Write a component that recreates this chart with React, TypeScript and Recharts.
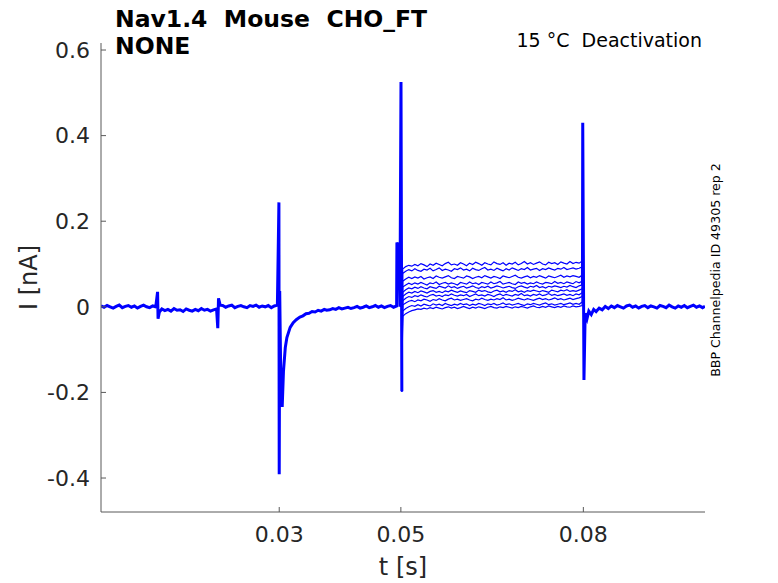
import React from "react";
import { LineChart, Line, XAxis, YAxis } from "recharts";

// ---- data (t in s, I in nA) ----
const X_TICKS = [0.03, 0.05, 0.08];
const Y_TICKS = [-0.4, -0.2, 0, 0.2, 0.4, 0.6];

// shared part of all sweeps before the deactivation step: [t, I]
const PRE: [number, number][] = [
  [0.0007, 0.002], [0.0012, -0.001], [0.0017, 0.003], [0.0022, 0.0], [0.0027, -0.003], [0.0032, 0.001],
  [0.0037, 0.004], [0.0042, -0.002], [0.0047, 0.001], [0.0052, 0.003], [0.0057, -0.001], [0.0062, 0.002],
  [0.0067, -0.003], [0.0072, 0.001], [0.0077, 0.004], [0.0082, 0.0], [0.0087, -0.002], [0.0092, 0.002],
  [0.0097, 0.0],
  [0.01, 0.035], [0.01008, -0.028], [0.0103, -0.012],
  [0.0107, -0.005], [0.0112, -0.009], [0.0117, -0.006], [0.0122, -0.01], [0.0127, -0.004], [0.0132, -0.008],
  [0.0137, -0.007], [0.0142, -0.011], [0.0147, -0.005], [0.0152, -0.008], [0.0157, -0.01], [0.0162, -0.006],
  [0.0167, -0.009], [0.0172, -0.004], [0.0177, -0.008], [0.0182, -0.006], [0.0187, -0.01], [0.0192, -0.007],
  [0.0197, -0.005],
  [0.0199, -0.05], [0.02002, 0.02], [0.0203, 0.004],
  [0.0207, 0.003], [0.0212, -0.001], [0.0217, 0.002], [0.0222, 0.004], [0.0227, -0.002], [0.0232, 0.001],
  [0.0237, 0.003], [0.0242, 0.0], [0.0247, -0.002], [0.0252, 0.003], [0.0257, 0.001], [0.0262, 0.004],
  [0.0267, -0.001], [0.0272, 0.002], [0.0277, 0.0], [0.0282, 0.003], [0.0287, -0.002], [0.0292, 0.002],
  [0.0297, 0.004],
  [0.02995, 0.244], [0.03, -0.391], [0.03008, 0.037], [0.03025, -0.16], [0.03049, -0.234],
  [0.0307, -0.15], [0.031, -0.095], [0.03126, -0.072], [0.0318, -0.048], [0.0323, -0.037], [0.0328, -0.03],
  [0.0334, -0.024], [0.0339, -0.021], [0.0344, -0.016], [0.0349, -0.015], [0.0354, -0.011], [0.0359, -0.012],
  [0.0364, -0.008], [0.0369, -0.01], [0.0374, -0.006], [0.0378, -0.008],
  [0.0383, -0.007], [0.0388, -0.004], [0.0393, -0.006], [0.0398, -0.002], [0.0403, -0.005], [0.0408, -0.003],
  [0.0413, -0.001], [0.0418, -0.004], [0.0423, -0.002], [0.0428, 0.001], [0.0433, -0.003], [0.0438, -0.001],
  [0.0443, 0.002], [0.0448, -0.002], [0.0453, 0.0], [0.0458, 0.003], [0.0463, -0.001], [0.0468, 0.002],
  [0.0473, -0.002], [0.0478, 0.001], [0.0483, 0.003], [0.0488, -0.001], [0.0493, 0.002],
  [0.04935, 0.15], [0.0497, 0.14], [0.04985, 0.0], [0.05002, 0.525], [0.05016, -0.197],
];

// time base of the individual sweeps during the step
const STEP_T = [
  0.0503, 0.0508, 0.0513, 0.0518, 0.0523, 0.0528, 0.0533, 0.0538, 0.0543, 0.0548,
  0.0553, 0.0558, 0.0563, 0.0568, 0.0573, 0.0578, 0.0583, 0.0588, 0.0593, 0.0598,
  0.0603, 0.0608, 0.0613, 0.0618, 0.0623, 0.0628, 0.0633, 0.0638, 0.0643, 0.0648,
  0.0653, 0.0658, 0.0663, 0.0668, 0.0673, 0.0678, 0.0683, 0.0688, 0.0693, 0.0698,
  0.0703, 0.0708, 0.0713, 0.0718, 0.0723, 0.0728, 0.0733, 0.0738, 0.0743, 0.0748,
  0.0753, 0.0758, 0.0763, 0.0768, 0.0773, 0.0778, 0.0783, 0.0788, 0.0793, 0.0798,
];
const STEP_1 = [
  0.088, 0.094, 0.097, 0.095, 0.099, 0.096, 0.101, 0.098, 0.094, 0.1,
  0.097, 0.102, 0.099, 0.096, 0.101, 0.104, 0.098, 0.1, 0.097, 0.103,
  0.1, 0.096, 0.102, 0.099, 0.104, 0.101, 0.097, 0.103, 0.1, 0.098,
  0.105, 0.101, 0.099, 0.103, 0.097, 0.102, 0.1, 0.104, 0.098, 0.101,
  0.106, 0.1, 0.103, 0.099, 0.102, 0.105, 0.1, 0.098, 0.104, 0.101,
  0.103, 0.099, 0.105, 0.102, 0.1, 0.106, 0.101, 0.104, 0.102, 0.107,
];
const STEP_2 = [
  0.078, 0.083, 0.087, 0.084, 0.089, 0.085, 0.083, 0.088, 0.086, 0.09,
  0.084, 0.087, 0.091, 0.085, 0.088, 0.086, 0.083, 0.089, 0.087, 0.091,
  0.086, 0.088, 0.084, 0.09, 0.087, 0.085, 0.089, 0.092, 0.086, 0.088,
  0.085, 0.09, 0.087, 0.084, 0.089, 0.086, 0.091, 0.088, 0.085, 0.089,
  0.087, 0.092, 0.086, 0.088, 0.09, 0.085, 0.089, 0.087, 0.091, 0.088,
  0.086, 0.09, 0.088, 0.092, 0.087, 0.089, 0.091, 0.088, 0.09, 0.093,
];
const STEP_3 = [
  0.06, 0.065, 0.069, 0.066, 0.07, 0.067, 0.071, 0.065, 0.068, 0.07,
  0.066, 0.072, 0.069, 0.067, 0.07, 0.073, 0.068, 0.066, 0.071, 0.069,
  0.067, 0.072, 0.07, 0.066, 0.069, 0.071, 0.068, 0.073, 0.07, 0.067,
  0.071, 0.069, 0.066, 0.072, 0.07, 0.068, 0.071, 0.074, 0.069, 0.067,
  0.07, 0.072, 0.068, 0.071, 0.069, 0.073, 0.07, 0.067, 0.072, 0.07,
  0.068, 0.071, 0.074, 0.069, 0.072, 0.07, 0.073, 0.071, 0.069, 0.074,
];
const STEP_4 = [
  0.046, 0.051, 0.055, 0.052, 0.056, 0.053, 0.057, 0.054, 0.051, 0.056,
  0.054, 0.058, 0.052, 0.055, 0.057, 0.053, 0.056, 0.054, 0.051, 0.057,
  0.055, 0.053, 0.058, 0.054, 0.056, 0.052, 0.057, 0.055, 0.053, 0.058,
  0.054, 0.056, 0.059, 0.053, 0.055, 0.057, 0.054, 0.052, 0.058, 0.055,
  0.057, 0.053, 0.056, 0.054, 0.058, 0.055, 0.053, 0.057, 0.056, 0.054,
  0.059, 0.055, 0.057, 0.054, 0.058, 0.056, 0.054, 0.059, 0.056, 0.06,
];
const STEP_5 = [
  0.034, 0.04, 0.044, 0.042, 0.046, 0.043, 0.047, 0.044, 0.042, 0.047,
  0.045, 0.043, 0.048, 0.046, 0.044, 0.049, 0.045, 0.047, 0.043, 0.046,
  0.048, 0.044, 0.046, 0.049, 0.045, 0.043, 0.047, 0.045, 0.048, 0.044,
  0.046, 0.049, 0.047, 0.044, 0.046, 0.048, 0.045, 0.043, 0.047, 0.049,
  0.046, 0.044, 0.048, 0.046, 0.05, 0.045, 0.047, 0.044, 0.048, 0.046,
  0.049, 0.047, 0.045, 0.048, 0.046, 0.05, 0.047, 0.045, 0.049, 0.051,
];
const STEP_6 = [
  0.024, 0.03, 0.034, 0.032, 0.036, 0.033, 0.037, 0.035, 0.032, 0.036,
  0.038, 0.034, 0.036, 0.033, 0.037, 0.035, 0.039, 0.036, 0.034, 0.037,
  0.035, 0.033, 0.038, 0.036, 0.034, 0.039, 0.036, 0.038, 0.035, 0.033,
  0.037, 0.039, 0.035, 0.037, 0.034, 0.038, 0.036, 0.04, 0.035, 0.037,
  0.034, 0.038, 0.036, 0.039, 0.037, 0.035, 0.038, 0.036, 0.034, 0.039,
  0.037, 0.035, 0.039, 0.037, 0.04, 0.036, 0.038, 0.036, 0.039, 0.042,
];
const STEP_7 = [
  0.014, 0.02, 0.024, 0.022, 0.026, 0.024, 0.028, 0.025, 0.023, 0.027,
  0.029, 0.025, 0.027, 0.024, 0.028, 0.026, 0.03, 0.027, 0.025, 0.028,
  0.026, 0.029, 0.024, 0.027, 0.03, 0.026, 0.028, 0.025, 0.029, 0.027,
  0.024, 0.028, 0.03, 0.026, 0.029, 0.027, 0.025, 0.029, 0.027, 0.031,
  0.026, 0.028, 0.025, 0.029, 0.027, 0.03, 0.026, 0.028, 0.031, 0.027,
  0.029, 0.026, 0.028, 0.03, 0.027, 0.029, 0.026, 0.03, 0.028, 0.033,
];
const STEP_8 = [
  0.004, 0.009, 0.013, 0.015, 0.012, 0.016, 0.014, 0.018, 0.016, 0.013,
  0.017, 0.015, 0.019, 0.016, 0.014, 0.018, 0.02, 0.016, 0.018, 0.015,
  0.017, 0.019, 0.016, 0.014, 0.018, 0.016, 0.02, 0.017, 0.015, 0.018,
  0.016, 0.019, 0.017, 0.021, 0.016, 0.018, 0.015, 0.017, 0.02, 0.018,
  0.016, 0.019, 0.017, 0.015, 0.018, 0.02, 0.017, 0.019, 0.016, 0.018,
  0.021, 0.017, 0.019, 0.016, 0.018, 0.02, 0.017, 0.019, 0.021, 0.024,
];
const STEP_9 = [
  -0.01, -0.004, 0.0, 0.003, 0.001, 0.005, 0.002, 0.006, 0.004, 0.002,
  0.007, 0.004, 0.006, 0.003, 0.008, 0.005, 0.003, 0.006, 0.004, 0.008,
  0.005, 0.007, 0.003, 0.006, 0.004, 0.008, 0.006, 0.003, 0.007, 0.005,
  0.008, 0.004, 0.006, 0.009, 0.005, 0.007, 0.004, 0.006, 0.008, 0.005,
  0.003, 0.007, 0.005, 0.008, 0.006, 0.004, 0.007, 0.009, 0.005, 0.007,
  0.004, 0.006, 0.008, 0.005, 0.007, 0.009, 0.006, 0.008, 0.006, 0.011,
];
const STEP_10 = [
  -0.022, -0.016, -0.012, -0.009, -0.007, -0.005, -0.006, -0.003, -0.005, -0.002,
  -0.004, -0.001, -0.003, -0.005, -0.002, 0.0, -0.003, -0.001, -0.004, -0.002,
  0.001, -0.002, -0.004, -0.001, -0.003, 0.0, -0.002, -0.004, -0.001, 0.001,
  -0.002, -0.003, 0.0, -0.002, 0.001, -0.001, -0.003, 0.0, -0.002, 0.001,
  -0.001, -0.003, 0.0, 0.002, -0.001, -0.002, 0.001, -0.001, 0.002, 0.0,
  -0.002, 0.001, -0.001, 0.002, 0.0, -0.001, 0.002, 0.0, 0.001, 0.003,
];

// shared part after the step: [t, I]
const POST: [number, number][] = [
  [0.07985, 0.05], [0.0799, 0.43], [0.0801, -0.171], [0.0803, -0.015], [0.0806, -0.028], [0.0809, -0.01],
  [0.0813, -0.018], [0.0817, -0.006], [0.0821, -0.011], [0.0826, -0.003], [0.0831, -0.007], [0.0836, 0.001],
  [0.0841, -0.004], [0.0846, 0.002], [0.0851, -0.002], [0.0856, 0.003], [0.0861, 0.0], [0.0866, -0.003],
  [0.0871, 0.002], [0.0876, 0.004], [0.0881, -0.001], [0.0886, 0.002], [0.0891, -0.003], [0.0896, 0.001],
  [0.0901, 0.003], [0.0906, -0.002], [0.0911, 0.002], [0.0916, 0.0], [0.0921, -0.003], [0.0926, 0.003],
  [0.0931, 0.001], [0.0936, -0.002], [0.0941, 0.004], [0.0946, 0.0], [0.0951, -0.003], [0.0956, 0.002],
  [0.0961, -0.001], [0.0966, 0.003], [0.0971, -0.002], [0.0976, 0.001], [0.0981, 0.004], [0.0986, -0.001],
  [0.0991, 0.002], [0.0996, -0.002], [0.1, 0.001],
];

const STEPS = [STEP_1, STEP_2, STEP_3, STEP_4, STEP_5, STEP_6, STEP_7, STEP_8, STEP_9, STEP_10];

const preRows = PRE.map(([t, i]) => ({ t, i }));
const postRows = POST.map(([t, i]) => ({ t, i }));
const stepRows = STEPS.map((arr) => [
  preRows[preRows.length - 1],
  ...STEP_T.map((t, k) => ({ t, i: arr[k] })),
  postRows[0],
]);

const FONT = "'DejaVu Sans', sans-serif";
const BLUE = "#0000ff";
const AX = "#595959";
const NB = "\u00a0";

export default function App() {
  return (
    <div style={{ position: "absolute", left: 0, top: 0, width: 778, height: 583, background: "#fff" }}>
      <LineChart width={778} height={583} margin={{ top: 43, right: 73, bottom: 0, left: 0 }}>
        <XAxis
          type="number"
          dataKey="t"
          domain={[0.0007, 0.1]}
          allowDataOverflow
          ticks={X_TICKS}
          interval={0}
          height={71}
          tickSize={-5}
          tickMargin={19}
          axisLine={{ stroke: AX }}
          tickLine={{ stroke: AX }}
          tick={{ fontSize: 22, fill: "#262626", fontFamily: FONT }}
        />
        <YAxis
          type="number"
          domain={[-0.4794, 0.6164]}
          allowDataOverflow
          ticks={Y_TICKS}
          interval={0}
          width={101}
          tickSize={-5}
          tickMargin={16}
          axisLine={{ stroke: AX }}
          tickLine={{ stroke: AX }}
          tick={{ fontSize: 22, fill: "#262626", fontFamily: FONT }}
        />
        <Line data={preRows} dataKey="i" stroke={BLUE} strokeWidth={3} dot={false} activeDot={false} isAnimationActive={false} type="linear" />
        {stepRows.map((rows, k) => (
          <Line key={k} data={rows} dataKey="i" stroke={BLUE} strokeWidth={1.2} dot={false} activeDot={false} isAnimationActive={false} type="linear" />
        ))}
        <Line data={postRows} dataKey="i" stroke={BLUE} strokeWidth={3} dot={false} activeDot={false} isAnimationActive={false} type="linear" />
      </LineChart>
      <svg width={778} height={583} style={{ position: "absolute", left: 0, top: 0, pointerEvents: "none" }}>
        <text x={115} y={27} fontFamily={FONT} fontSize={23.5} fontWeight="bold" fill="#000">
          {`Nav1.4${NB}${NB}Mouse${NB}${NB}CHO_FT`}
        </text>
        <text x={115} y={54} fontFamily={FONT} fontSize={23.5} fontWeight="bold" fill="#000">
          NONE
        </text>
        <text x={702} y={47} textAnchor="end" fontFamily={FONT} fontSize={19} fill="#000">
          {`15 °C${NB}${NB}Deactivation`}
        </text>
        <text x={720} y={270} transform="rotate(-90 720 270)" textAnchor="middle" fontFamily={FONT} fontSize={12.6} fill="#000">
          BBP Channelpedia ID 49305 rep 2
        </text>
        <text x={37} y={277.5} transform="rotate(-90 37 277.5)" textAnchor="middle" fontFamily={FONT} fontSize={24} fill="#262626">
          I [nA]
        </text>
        <text x={403} y={575} textAnchor="middle" fontFamily={FONT} fontSize={24} fill="#262626">
          t [s]
        </text>
      </svg>
    </div>
  );
}
